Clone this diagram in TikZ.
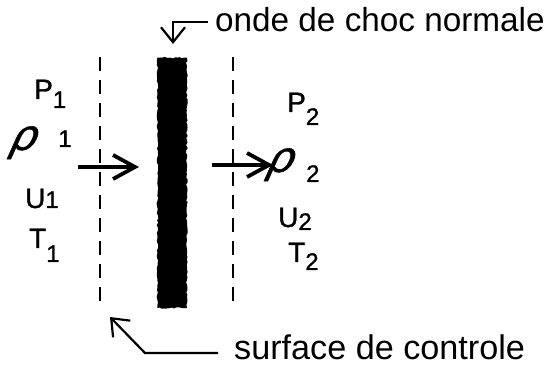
\documentclass[tikz,border=0pt]{standalone}
\usepackage{fontspec}
\setmainfont{Liberation Sans}
\newfontfamily\labfam[FakeBold=1.2]{Liberation Sans}
\usetikzlibrary{arrows.meta,decorations.pathmorphing}
\newcommand{\labfont}{\labfam\fontsize{28}{28}\selectfont}
\newcommand{\subfnt}{\labfam\fontsize{24}{24}\selectfont}
\newcommand{\rhofnt}{\labfam\fontsize{44}{44}\selectfont}
\newcommand{\bigfnt}{\fontsize{33.3}{33.3}\selectfont}
\newcommand{\smfnt}{\fontsize{34.2}{34.2}\selectfont}
\tikzset{
  lab/.style={inner sep=0pt, anchor=base west, font=\labfont},
  caption/.style={inner sep=0pt, anchor=base west, font=\bigfnt},
  ctrl/.style={line width=2.6pt, dash pattern=on 14pt off 9pt},
  flow/.style={line width=3.8pt, -{Straight Barb[length=22pt,width=24pt,line width=3.8pt]}},
  pointer/.style={line width=2.2pt, -{Straight Barb[length=15pt,width=24pt,line width=2.2pt]}},
  shock/.style={fill=none, draw=none},
  rough/.style={fill=black, decorate, decoration={random steps, segment length=2.5pt, amplitude=0.8pt}}
}
\begin{document}
\begin{tikzpicture}[x=1pt,y=1pt]
\pgfmathsetseed{7}
\useasboundingbox (0,0) rectangle (552,369);
% shock
\node[shock, minimum width=29pt, minimum height=250pt, inner sep=0pt, anchor=south west] (bar) at (157.5,61) {};
\fill[rough] (bar.south west) rectangle (bar.north east);
% control surfaces
\coordinate (cl1) at (100,312); \coordinate (cl2) at (100,59);
\coordinate (cr1) at (233,312); \coordinate (cr2) at (233,59);
\draw[ctrl] (cl1) -- (cl2);
\draw[ctrl] (cr1) -- (cr2);
% flow arrows
\coordinate (la) at (78,202); \coordinate (lb) at (139,202);
\coordinate (ra) at (212,204); \coordinate (rb) at (273,204);
\draw[flow] (la) -- (lb);
\draw[flow] (ra) -- (rb);
% captions
\node[caption] (onde) at (215,337) {onde de choc normale};
\node[caption, font=\smfnt] (surf) at (234,9) {surface de controle};
\coordinate (ts) at (208,347);
\coordinate (tc) at (173,347);
\coordinate (tt) at (173,325);
\draw[pointer] (ts) -- (tc) -- (tt);
\coordinate (bs) at (218,16);
\coordinate (bc) at (145,16);
\coordinate (bt) at (110,52);
\draw[pointer] (bs) -- (bc) -- (bt);
% upstream labels
\node[lab] (p1) at (34,270) {P\lower9pt\hbox{\subfnt 1}};
\begin{scope}[shift={(8,219)}, xslant=0.45]
\node[lab, font=\rhofnt, transform shape] (r1) at (0,0) {ρ};
\end{scope}
\node[lab, font=\subfnt] (r1n) at (58,222) {1};
\node[lab] (u1) at (25,161) {U\hbox{\subfnt 1}};
\node[lab] (t1) at (29,121) {T\lower14pt\hbox{\subfnt 1}};
% downstream labels
\node[lab] (p2) at (287,257) {P\lower13pt\hbox{\subfnt 2}};
\begin{scope}[shift={(265,197)}, xslant=0.45]
\node[lab, font=\rhofnt, transform shape] (r2) at (0,0) {ρ};
\end{scope}
\node[lab, font=\subfnt] (r2n) at (306,187) {2};
\node[lab] (u2) at (278,142) {U\lower3pt\hbox{\subfnt 2}};
\node[lab] (t2) at (288,107) {T\lower8pt\hbox{\subfnt 2}};
\end{tikzpicture}
\end{document}
